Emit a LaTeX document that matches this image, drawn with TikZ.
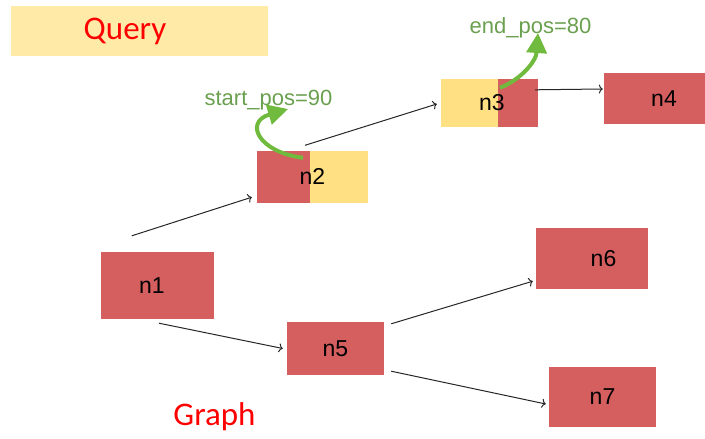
\documentclass[tikz,border=0pt]{standalone}
\usepackage{fontspec}
\setmainfont{Liberation Sans}
\newfontfamily\calibrifont{Carlito}
\usetikzlibrary{arrows.meta}
\definecolor{nodered}{RGB}{213,95,95}
\definecolor{nodeyellow}{RGB}{255,224,130}
\definecolor{queryyellow}{RGB}{255,234,168}
\definecolor{posgreen}{RGB}{106,160,79}
\definecolor{arrowgreen}{RGB}{112,186,62}
\begin{document}
\begin{tikzpicture}[x=1pt,y=-1pt,every path/.style={>={To[length=4pt,width=9pt]}},
  box/.style={fill=nodered,inner sep=0pt,font=\fontsize{23}{23}\selectfont},
  poslabel/.style={text=posgreen,anchor=base,inner sep=0pt,font=\fontsize{22}{22}\selectfont},
  title/.style={text=red,inner sep=0pt,font=\calibrifont\fontsize{33}{33}\selectfont},
  move/.style={arrowgreen,line width=4pt,-{Triangle[length=20pt,width=20pt]}},
  link/.style={->,line width=1pt,black!85}]
\useasboundingbox (0,0) rectangle (705,439);
\node[title,fill=queryyellow,minimum width=257,minimum height=50] (query) at (139.5,31) {Query\hspace*{29pt}};
\node[title,anchor=base]  (graph) at (214.5,425) {Graph};
\node[box,minimum width=113,minimum height=67] (n1) at (157.5,285.5) {n1\hspace*{11pt}};
\node[box,fill=nodeyellow,minimum width=111,minimum height=52,
  path picture={\fill[nodered] (path picture bounding box.north west) rectangle ([xshift=53pt]path picture bounding box.south west);}]
  (n2) at (312.5,176.5) {n2};
\node[box,fill=nodeyellow,minimum width=97,minimum height=48,
  path picture={\fill[nodered] ([xshift=-40pt]path picture bounding box.north east) rectangle (path picture bounding box.south east);}]
  (n3) at (489.5,103) {\hspace*{5pt}n3};
\node[box,minimum width=101,minimum height=51] (n4) at (654.5,98.5) {\hspace*{19pt}n4};
\node[box,minimum width=97,minimum height=53]  (n5) at (335.5,348.5) {n5};
\node[box,minimum width=112,minimum height=61] (n6) at (592,258.5) {\hspace*{23pt}n6};
\node[box,minimum width=107,minimum height=60] (n7) at (602.5,397) {n7};
\node[poslabel] (spos) at (268.5,105) {start\_pos=90};
\node[poslabel] (epos) at (530.5,33)  {end\_pos=80};
\draw[link] ([shift={(31,-16)}]n1.north west) -- ([shift={(-5,-5.5)}]n2.south west);
\draw[link] ([shift={(-7.5,-5)}]n2.north)     -- ([shift={(-4,1)}]n3.west);
\draw[link] ([shift={(-3,11)}]n3.north east)  -- ([shift={(-1,-9.5)}]n4.west);
\draw[link] ([shift={(1.5,4)}]n1.south)       -- ([shift={(-4,0)}]n5.west);
\draw[link] ([shift={(7,2)}]n5.north east)    -- ([shift={(-3,-8)}]n6.south west);
\draw[link] ([shift={(7,-4)}]n5.south east)   -- ([shift={(-3,7)}]n7.west);
\draw[move] ([shift={(-9.5,7.5)}]n2.north) .. controls (258,152) and (244,122) .. ([shift={(19.5,4)}]spos.base);
\draw[move] ([shift={(10.5,9)}]n3.north)   .. controls (520,80) and (536,62)  .. ([shift={(7.5,0)}]epos.base);
\end{tikzpicture}
\end{document}
